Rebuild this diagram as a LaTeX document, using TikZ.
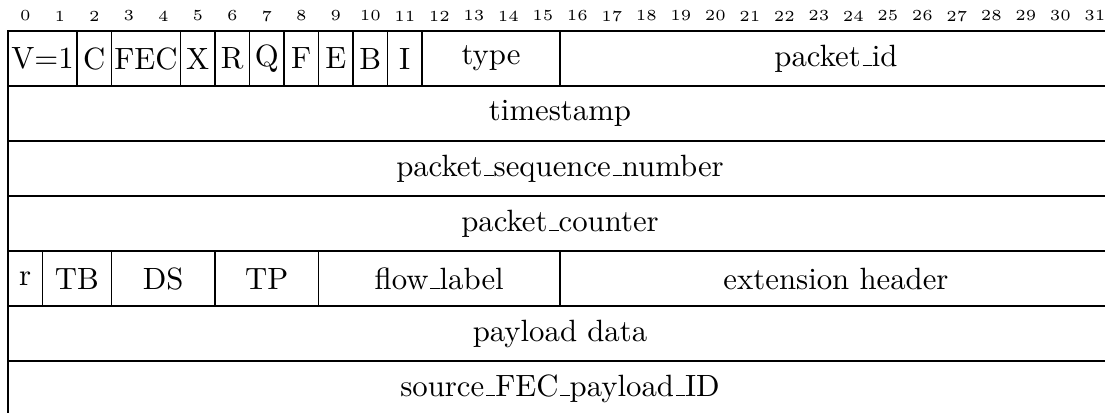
\documentclass[tikz,border=0pt]{standalone}
\newcommand\usc{\leavevmode\kern.06em\vbox{\hrule width.3em}}
\tikzset{
  field/.style={draw, line width=0.4pt, inner sep=0pt, minimum height=17.875pt, font=\normalsize, anchor=center},
  bitnum/.style={font=\tiny, inner sep=0pt},
}
% name, first bit, number of bits, row, text
\newcommand\fld[5]{\node[field, minimum width={#3*11.2125pt}] (#1) at ({8+(#2+#3/2)*34.5},{-(31+(#4+0.5)*55)}) {#5};}
\begin{document}
\begin{tikzpicture}[x=0.325pt,y=0.325pt]
\clip (0,0) rectangle (1105,-412);
\foreach \i in {0,...,31} \node[bitnum] (b\i) at ({8+(\i+0.5)*34.5},-16) {\i};
% row 0
\fld{ver}{0}{2}{0}{V=1}
\fld{cf}{2}{1}{0}{C}
\fld{fec}{3}{2}{0}{FEC}
\fld{xf}{5}{1}{0}{X}
\fld{rf}{6}{1}{0}{R}
\fld{qf}{7}{1}{0}{Q}
\fld{ff}{8}{1}{0}{F}
\fld{ef}{9}{1}{0}{E}
\fld{bf}{10}{1}{0}{B}
\fld{iff}{11}{1}{0}{I}
\fld{type}{12}{4}{0}{type}
\fld{pid}{16}{16}{0}{packet\usc id}
% full rows
\fld{ts}{0}{32}{1}{timestamp}
\fld{psn}{0}{32}{2}{packet\usc sequence\usc number}
\fld{pc}{0}{32}{3}{packet\usc counter}
% row 4
\fld{rr}{0}{1}{4}{r}
\fld{tb}{1}{2}{4}{TB}
\fld{ds}{3}{3}{4}{DS}
\fld{tp}{6}{3}{4}{TP}
\fld{fl}{9}{7}{4}{flow\usc label}
\fld{eh}{16}{16}{4}{extension header}
% remaining rows
\fld{pd}{0}{32}{5}{payload data}
\fld{sfec}{0}{32}{6}{source\usc FEC\usc payload\usc ID}
\end{tikzpicture}
\end{document}
